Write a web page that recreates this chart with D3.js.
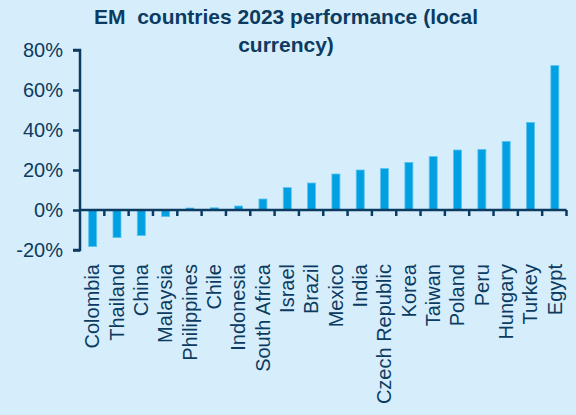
<!DOCTYPE html>
<html><head><meta charset="utf-8">
<script src="https://cdn.jsdelivr.net/npm/d3@7"></script>
<style>
html,body{margin:0;padding:0;background:#d6eefc;}
svg{display:block;}
text{font-family:"Liberation Sans",Arial,sans-serif;fill:#0c3b61;}
</style></head>
<body>
<svg id="chart" width="576" height="415"></svg>
<script>
const categories = ["Colombia","Thailand","China","Malaysia","Philippines","Chile","Indonesia","South Africa","Israel","Brazil","Mexico","India","Czech Republic","Korea","Taiwan","Poland","Peru","Hungary","Turkey","Egypt"];
const values = [-18.3,-13.8,-12.8,-3.3,1.0,1.1,2.0,5.5,11.2,13.5,18.0,20.0,20.7,23.8,26.7,30.0,30.3,34.3,43.8,72.2];
const yTicks = [-20,0,20,40,60,80];
const titleLines = ["EM  countries 2023 performance (local","currency)"];

const svg = d3.select("#chart");
const navy = "#0c3b61";
const margin = {left:80, right:9.5, top:50, bottom:165};
const W = 576, H = 415;

const x = d3.scaleBand().domain(categories).range([margin.left, W - margin.right]).paddingInner(0).paddingOuter(0);
const y = d3.scaleLinear().domain([-20,80]).range([250,50]);

svg.append("rect").attr("width",W).attr("height",H).attr("fill","#d6eefc");

// title
svg.append("text").attr("x",286).attr("y",24).attr("text-anchor","middle")
  .attr("font-size",21).attr("font-weight","bold").attr("xml:space","preserve")
  .selectAll("tspan").data(titleLines).join("tspan")
  .attr("x",286).attr("dy",(d,i)=> i===0?0:28).text(d=>d);

// bars
const bw = 8;
svg.append("g").selectAll("rect").data(values).join("rect")
  .attr("x",(d,i)=> x(categories[i]) + x.bandwidth()/2 - bw/2 + 0.5)
  .attr("y",d=> y(Math.max(0,d)))
  .attr("width",bw)
  .attr("height",d=> Math.abs(y(d)-y(0)))
  .attr("fill","#00a0e3")
  .attr("stroke","#5cc3ef").attr("stroke-width",0.8);

// y axis
const yAxis = d3.axisLeft(y).tickValues(yTicks).tickFormat(d=>d+"%").tickSize(7).tickPadding(10);
const gy = svg.append("g").attr("transform",`translate(${margin.left},0)`).call(yAxis);
gy.select(".domain").attr("stroke",navy).attr("stroke-width",2.5).attr("d",`M-7,${y(80)}H0V${y(-20)}H-7`);
gy.selectAll(".tick line").attr("stroke",navy).attr("stroke-width",2.5);
gy.selectAll(".tick text").attr("font-size",20).attr("fill",navy).attr("font-family","Liberation Sans, Arial, sans-serif");

// x axis line with boundary ticks
const gx = svg.append("g").attr("transform",`translate(0,${y(0)})`);
gx.append("line").attr("x1",margin.left).attr("x2",W - margin.right).attr("y1",0).attr("y2",0)
  .attr("stroke",navy).attr("stroke-width",2.5);
gx.selectAll("line.tk").data(categories).join("line").attr("class","tk")
  .attr("x1",d=> x(d)+x.bandwidth()).attr("x2",d=> x(d)+x.bandwidth())
  .attr("y1",0).attr("y2",6).attr("stroke",navy).attr("stroke-width",2.5);

// category labels
svg.append("g").selectAll("text").data(categories).join("text")
  .attr("transform",d=>`translate(${x(d)+x.bandwidth()/2},264) rotate(-90)`)
  .attr("dy","0.36em").attr("text-anchor","end").attr("font-size",20).text(d=>d);
</script>
</body></html>
